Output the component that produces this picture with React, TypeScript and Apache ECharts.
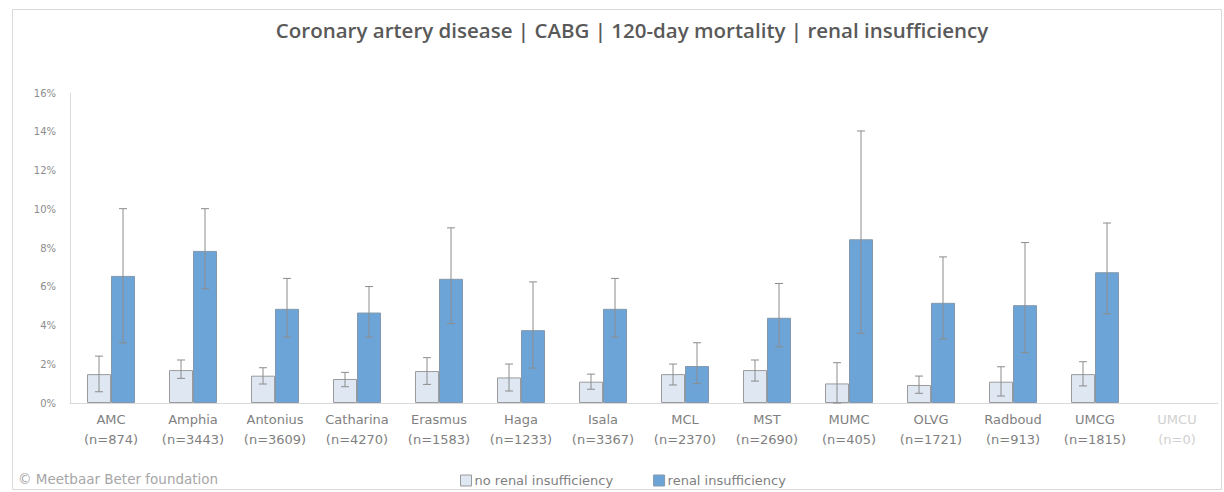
import React, { useEffect, useRef } from "react";
import * as echarts from "echarts";

const hospitals = ["AMC", "Amphia", "Antonius", "Catharina", "Erasmus", "Haga", "Isala", "MCL", "MST", "MUMC", "OLVG", "Radboud", "UMCG", "UMCU"];
const counts = [874, 3443, 3609, 4270, 1583, 1233, 3367, 2370, 2690, 405, 1721, 913, 1815, 0];

const noRenal = [1.49, 1.70, 1.41, 1.24, 1.65, 1.32, 1.10, 1.49, 1.70, 1.01, 0.93, 1.10, 1.49, null];
const noRenalLow = [0.58, 1.27, 0.98, 0.84, 0.96, 0.62, 0.71, 0.93, 1.13, 0.0, 0.50, 0.36, 0.88, null];
const noRenalHigh = [2.42, 2.22, 1.82, 1.58, 2.34, 2.01, 1.49, 2.01, 2.22, 2.08, 1.39, 1.87, 2.13, null];

const renal = [6.56, 7.85, 4.86, 4.67, 6.41, 3.76, 4.86, 1.91, 4.40, 8.45, 5.17, 5.05, 6.75, null];
const renalLow = [3.1, 5.9, 3.4, 3.4, 4.1, 1.8, 3.4, 1.0, 2.9, 3.6, 3.3, 2.6, 4.6, null];
const renalHigh = [10.03, 10.03, 6.43, 6.01, 9.04, 6.25, 6.43, 3.11, 6.17, 14.04, 7.54, 8.28, 9.29, null];

const yTicks = [0, 2, 4, 6, 8, 10, 12, 14, 16];

const BAR_W = 24;

function errorSeries(low: (number | null)[], high: (number | null)[], offset: number) {
  const data = low
    .map((l, i) => (l === null || high[i] === null ? null : [i, l, high[i]]))
    .filter((d) => d !== null);
  return {
    type: "custom",
    z: 10,
    silent: true,
    renderItem: (params: any, api: any) => {
      const idx = api.value(0);
      const lo = api.coord([idx, api.value(1)]);
      const hi = api.coord([idx, api.value(2)]);
      const x = lo[0] + offset;
      const cap = 4;
      const style = { stroke: "#8c8c8c", lineWidth: 1 };
      return {
        type: "group",
        children: [
          { type: "line", shape: { x1: x, y1: lo[1], x2: x, y2: hi[1] }, style },
          { type: "line", shape: { x1: x - cap, y1: hi[1], x2: x + cap, y2: hi[1] }, style },
          { type: "line", shape: { x1: x - cap, y1: lo[1], x2: x + cap, y2: lo[1] }, style },
        ],
      };
    },
    data,
  };
}

export default function App() {
  const ref = useRef<HTMLDivElement>(null);
  useEffect(() => {
    if (!ref.current) return;
    const chart = echarts.init(ref.current, null, { renderer: "svg" });
    const labels = hospitals.map((h, i) => `${h}\n(n=${counts[i]})`);
    chart.setOption({
      animation: false,
      backgroundColor: "#ffffff",
      textStyle: { fontFamily: "DejaVu Sans" },
      title: {
        text: "Coronary artery disease | CABG | 120-day mortality | renal insufficiency",
        left: 627,
        textAlign: "center",
        top: 14,
        textStyle: { fontFamily: "Open Sans", fontSize: 20.5, fontWeight: 600, color: "#595959" },
      },
      grid: { left: 70, right: 6, top: 93, bottom: 89, containLabel: false },
      legend: {
        left: 455,
        top: 469,
        itemWidth: 11,
        itemHeight: 11,
        itemGap: 40,
        icon: "rect",
        textStyle: { fontFamily: "DejaVu Sans", fontSize: 13, color: "#7f7f7f", padding: [0, 0, 0, -2] },
        data: [
          { name: "no renal insufficiency", itemStyle: { color: "#dee7f2", borderColor: "#9b9b9b", borderWidth: 1 } },
          { name: "renal insufficiency", itemStyle: { color: "#6ca4d8", borderColor: "#8499ad", borderWidth: 1 } },
        ],
      },
      xAxis: {
        type: "category",
        data: labels,
        axisLine: { lineStyle: { color: "#d9d9d9" } },
        axisTick: { show: false },
        axisLabel: {
          interval: 0,
          margin: 6,
          lineHeight: 20,
          fontSize: 13,
          fontFamily: "DejaVu Sans",
          color: (v: string, i: number) => (i === 13 ? "#d0d0d0" : "#7f7f7f"),
        },
      },
      yAxis: {
        type: "value",
        min: 0,
        max: 16,
        interval: 2,
        axisLine: { show: true, lineStyle: { color: "#d9d9d9" } },
        axisTick: { show: false },
        splitLine: { show: false },
        axisLabel: {
          formatter: (v: number) => (yTicks.includes(v) ? `${v}%` : ""),
          fontSize: 10,
          fontFamily: "DejaVu Sans",
          color: "#8c8c8c",
          margin: 14,
        },
      },
      graphic: [
        {
          type: "rect",
          shape: { x: 12.5, y: 9.5, width: 1209, height: 480 },
          style: { fill: "none", stroke: "#d9d9d9", lineWidth: 1 },
          silent: true,
        },
        {
          type: "text",
          left: 18,
          top: 472,
          style: { text: "© Meetbaar Beter foundation", fontFamily: "DejaVu Sans", fontSize: 13.5, fill: "#a6a6a6" },
        },
      ],
      series: [
        {
          name: "no renal insufficiency",
          type: "bar",
          barWidth: BAR_W,
          barGap: "0%",
          data: noRenal,
          itemStyle: { color: "#dee7f2", borderColor: "#9b9b9b", borderWidth: 1 },
        },
        {
          name: "renal insufficiency",
          type: "bar",
          barWidth: BAR_W,
          barGap: "0%",
          data: renal,
          itemStyle: { color: "#6ca4d8", borderColor: "#8499ad", borderWidth: 1 },
        },
        errorSeries(noRenalLow, noRenalHigh, -BAR_W / 2),
        errorSeries(renalLow, renalHigh, BAR_W / 2),
      ],
    });
    return () => chart.dispose();
  }, []);
  return <div ref={ref} style={{ width: 1224, height: 492, position: "absolute", left: 0, top: 0 }} />;
}
